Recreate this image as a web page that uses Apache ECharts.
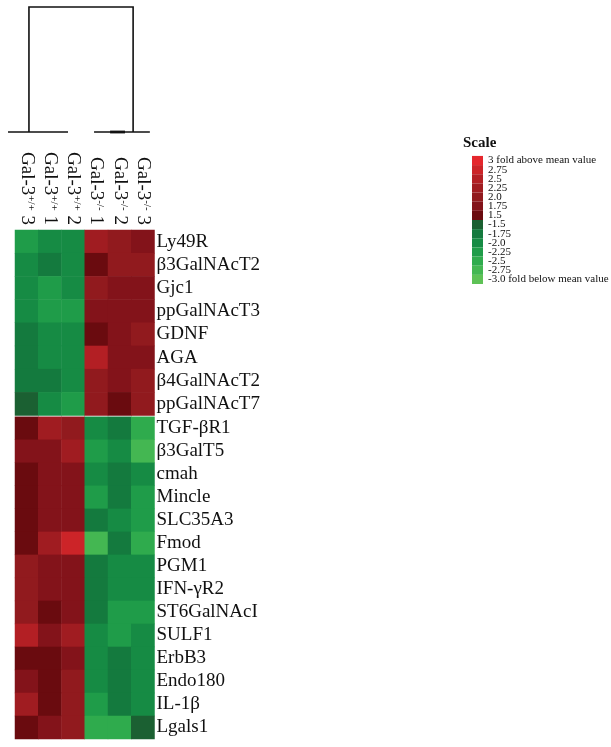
<!DOCTYPE html>
<html><head><meta charset="utf-8">
<script src="https://cdn.jsdelivr.net/npm/echarts@6/dist/echarts.min.js"></script>
<style>html,body{margin:0;padding:0;background:#fff}#c{width:611px;height:747px}</style>
</head><body><div id="c"></div>
<script>
// ---- data ----
const colLabels = ['Gal-3+/+ 3', 'Gal-3+/+ 1', 'Gal-3+/+ 2', 'Gal-3-/- 1', 'Gal-3-/- 2', 'Gal-3-/- 3'];

const upGenes = ['Ly49R', 'β3GalNAcT2', 'Gjc1', 'ppGalNAcT3', 'GDNF', 'AGA', 'β4GalNAcT2', 'ppGalNAcT7'];
const upValues = [
  [-2.25, -2.0, -2.0, 2.25, 2.0, 1.75],
  [-2.0, -1.75, -2.0, 1.5, 2.0, 2.0],
  [-2.0, -2.25, -2.0, 2.0, 1.75, 1.75],
  [-2.0, -2.25, -2.25, 1.75, 1.75, 1.75],
  [-1.75, -2.0, -2.0, 1.5, 1.75, 2.0],
  [-1.75, -2.0, -2.0, 2.5, 1.75, 1.75],
  [-1.75, -1.75, -2.0, 2.0, 1.75, 2.0],
  [-1.5, -2.0, -2.25, 2.0, 1.5, 2.0]
];

const downGenes = ['TGF-βR1', 'β3GalT5', 'cmah', 'Mincle', 'SLC35A3', 'Fmod', 'PGM1', 'IFN-γR2',
  'ST6GalNAcI', 'SULF1', 'ErbB3', 'Endo180', 'IL-1β', 'Lgals1'];
const downValues = [
  [1.5, 2.25, 2.0, -2.0, -1.75, -2.5],
  [1.75, 1.75, 2.25, -2.25, -2.0, -2.75],
  [1.5, 1.75, 1.75, -2.0, -1.75, -2.0],
  [1.5, 1.75, 1.75, -2.25, -1.75, -2.25],
  [1.5, 1.75, 1.75, -1.75, -2.0, -2.25],
  [1.5, 2.25, 2.75, -2.75, -1.75, -2.5],
  [2.0, 1.75, 1.75, -1.75, -2.0, -2.0],
  [2.0, 1.75, 1.75, -1.75, -2.0, -2.0],
  [2.0, 1.5, 1.75, -1.75, -2.25, -2.25],
  [2.5, 1.75, 2.25, -2.0, -2.25, -2.0],
  [1.5, 1.5, 1.75, -2.0, -1.75, -2.0],
  [1.75, 1.5, 2.0, -2.0, -1.75, -2.0],
  [2.25, 1.5, 2.0, -2.25, -1.75, -2.0],
  [1.5, 1.75, 2.0, -2.5, -2.5, -1.5]
];

const scaleLevels = [3, 2.75, 2.5, 2.25, 2.0, 1.75, 1.5, -1.5, -1.75, -2.0, -2.25, -2.5, -2.75, -3.0];
const scaleLabels = ['3 fold above mean value', '2.75', '2.5', '2.25', '2.0', '1.75', '1.5',
  '-1.5', '-1.75', '-2.0', '-2.25', '-2.5', '-2.75', '-3.0 fold below mean value'];
const scaleColors = ['#e5272d', '#cc2428', '#b31f24', '#a01c21', '#911a1e', '#83131a', '#6a0b0f',
  '#1b6032', '#147a3e', '#168b44', '#1f9c49', '#2fab4d', '#44b752', '#5ec256'];

// dendrogram (x in column units, y = merge height 0..1)
const dendroArms = [[0.6, 0], [0.6, 1], [5.08, 1], [5.08, 0]];
const dendroLeftBase = [[-0.3, 0], [2.28, 0]];
const dendroRightBase = [[3.4, 0], [5.8, 0]];
const dendroSubMerge = [[4.09, 0], [4.73, 0]];

// ---- build ----
function toCells(values) {
  const out = [];
  values.forEach((row, r) => row.forEach((v, c) => out.push([c, r, v])));
  return out;
}
const pieces = scaleLevels.map((lv, i) => {
  const p = { label: scaleLabels[i], color: scaleColors[i] };
  if (lv > 0) {
    if (i === 0) p.gte = lv - 0.125; else { p.gte = lv - 0.125; p.lt = lv + 0.125; }
    if (lv === 1.5) { p.gte = 0; }
  } else {
    if (i === scaleLevels.length - 1) p.lte = lv + 0.125; else { p.gt = lv - 0.125; p.lte = lv + 0.125; }
    if (lv === -1.5) { p.lt = 0; delete p.lte; }
  }
  return p;
});

const serif = 'Liberation Serif, Times New Roman, serif';
const L = 15, W = 139.5;
const legendFont = 11, legendItemH = 9.15;

const chart = echarts.init(document.getElementById('c'));
chart.setOption({
  animation: false,
  backgroundColor: '#fff',
  title: {
    text: 'Scale', left: 463, top: 135.5, padding: 0,
    textStyle: { fontFamily: serif, fontSize: 15, fontWeight: 'bold', color: '#111' }
  },
  grid: [
    { left: L, width: W, top: 7, height: 125 },
    { left: L, width: W, top: 230, height: 185.5 },
    { left: L, width: W, top: 416.8, height: 322.2 }
  ],
  xAxis: [
    { gridIndex: 0, type: 'value', min: 0, max: 6, show: false },
    {
      gridIndex: 1, type: 'category', data: colLabels, position: 'top',
      axisLine: { show: false }, axisTick: { show: false }, splitLine: { show: false },
      axisLabel: {
        rotate: 90, margin: 5, interval: 0, color: '#111',
        formatter: function (v) {
          const m = v.match(/^(Gal-3)(\S+) (\d)$/);
          return '{b|' + m[1] + '}{s|' + m[2] + '}{b| ' + m[3] + '}';
        },
        rich: {
          b: { fontFamily: serif, fontSize: 19, color: '#111' },
          s: { fontFamily: serif, fontSize: 11, color: '#111', verticalAlign: 'top', lineHeight: 19 }
        }
      }
    },
    { gridIndex: 2, type: 'category', data: colLabels, show: false }
  ],
  yAxis: [
    { gridIndex: 0, type: 'value', min: 0, max: 1, show: false },
    {
      gridIndex: 1, type: 'category', data: upGenes, inverse: true, position: 'right',
      axisLine: { show: false }, axisTick: { show: false }, splitLine: { show: false },
      axisLabel: { margin: 2, fontFamily: serif, fontSize: 19, color: '#111', interval: 0 }
    },
    {
      gridIndex: 2, type: 'category', data: downGenes, inverse: true, position: 'right',
      axisLine: { show: false }, axisTick: { show: false }, splitLine: { show: false },
      axisLabel: { margin: 2, fontFamily: serif, fontSize: 19, color: '#111', interval: 0 }
    }
  ],
  visualMap: {
    type: 'piecewise', seriesIndex: [2, 3], pieces: pieces, align: 'left',
    left: 472, top: 155, itemWidth: 11, itemHeight: legendItemH,
    itemGap: legendItemH - legendFont, itemSymbol: 'rect',
    textGap: 5, padding: 0, orient: 'vertical',
    textStyle: { fontFamily: serif, fontSize: legendFont, color: '#111' }
  },
  series: [
    {
      type: 'lines', coordinateSystem: 'cartesian2d', xAxisIndex: 0, yAxisIndex: 0,
      polyline: true, clip: false, silent: true,
      lineStyle: { color: '#111', width: 1.6, opacity: 1 },
      data: [{ coords: dendroArms }, { coords: dendroLeftBase }, { coords: dendroRightBase }]
    },
    {
      type: 'lines', coordinateSystem: 'cartesian2d', xAxisIndex: 0, yAxisIndex: 0,
      polyline: true, clip: false, silent: true,
      lineStyle: { color: '#111', width: 2.8, opacity: 1 },
      data: [{ coords: dendroSubMerge }]
    },
    { type: 'heatmap', xAxisIndex: 1, yAxisIndex: 1, data: toCells(upValues), emphasis: { disabled: true } },
    { type: 'heatmap', xAxisIndex: 2, yAxisIndex: 2, data: toCells(downValues), emphasis: { disabled: true } }
  ]
});
</script>
</body></html>
